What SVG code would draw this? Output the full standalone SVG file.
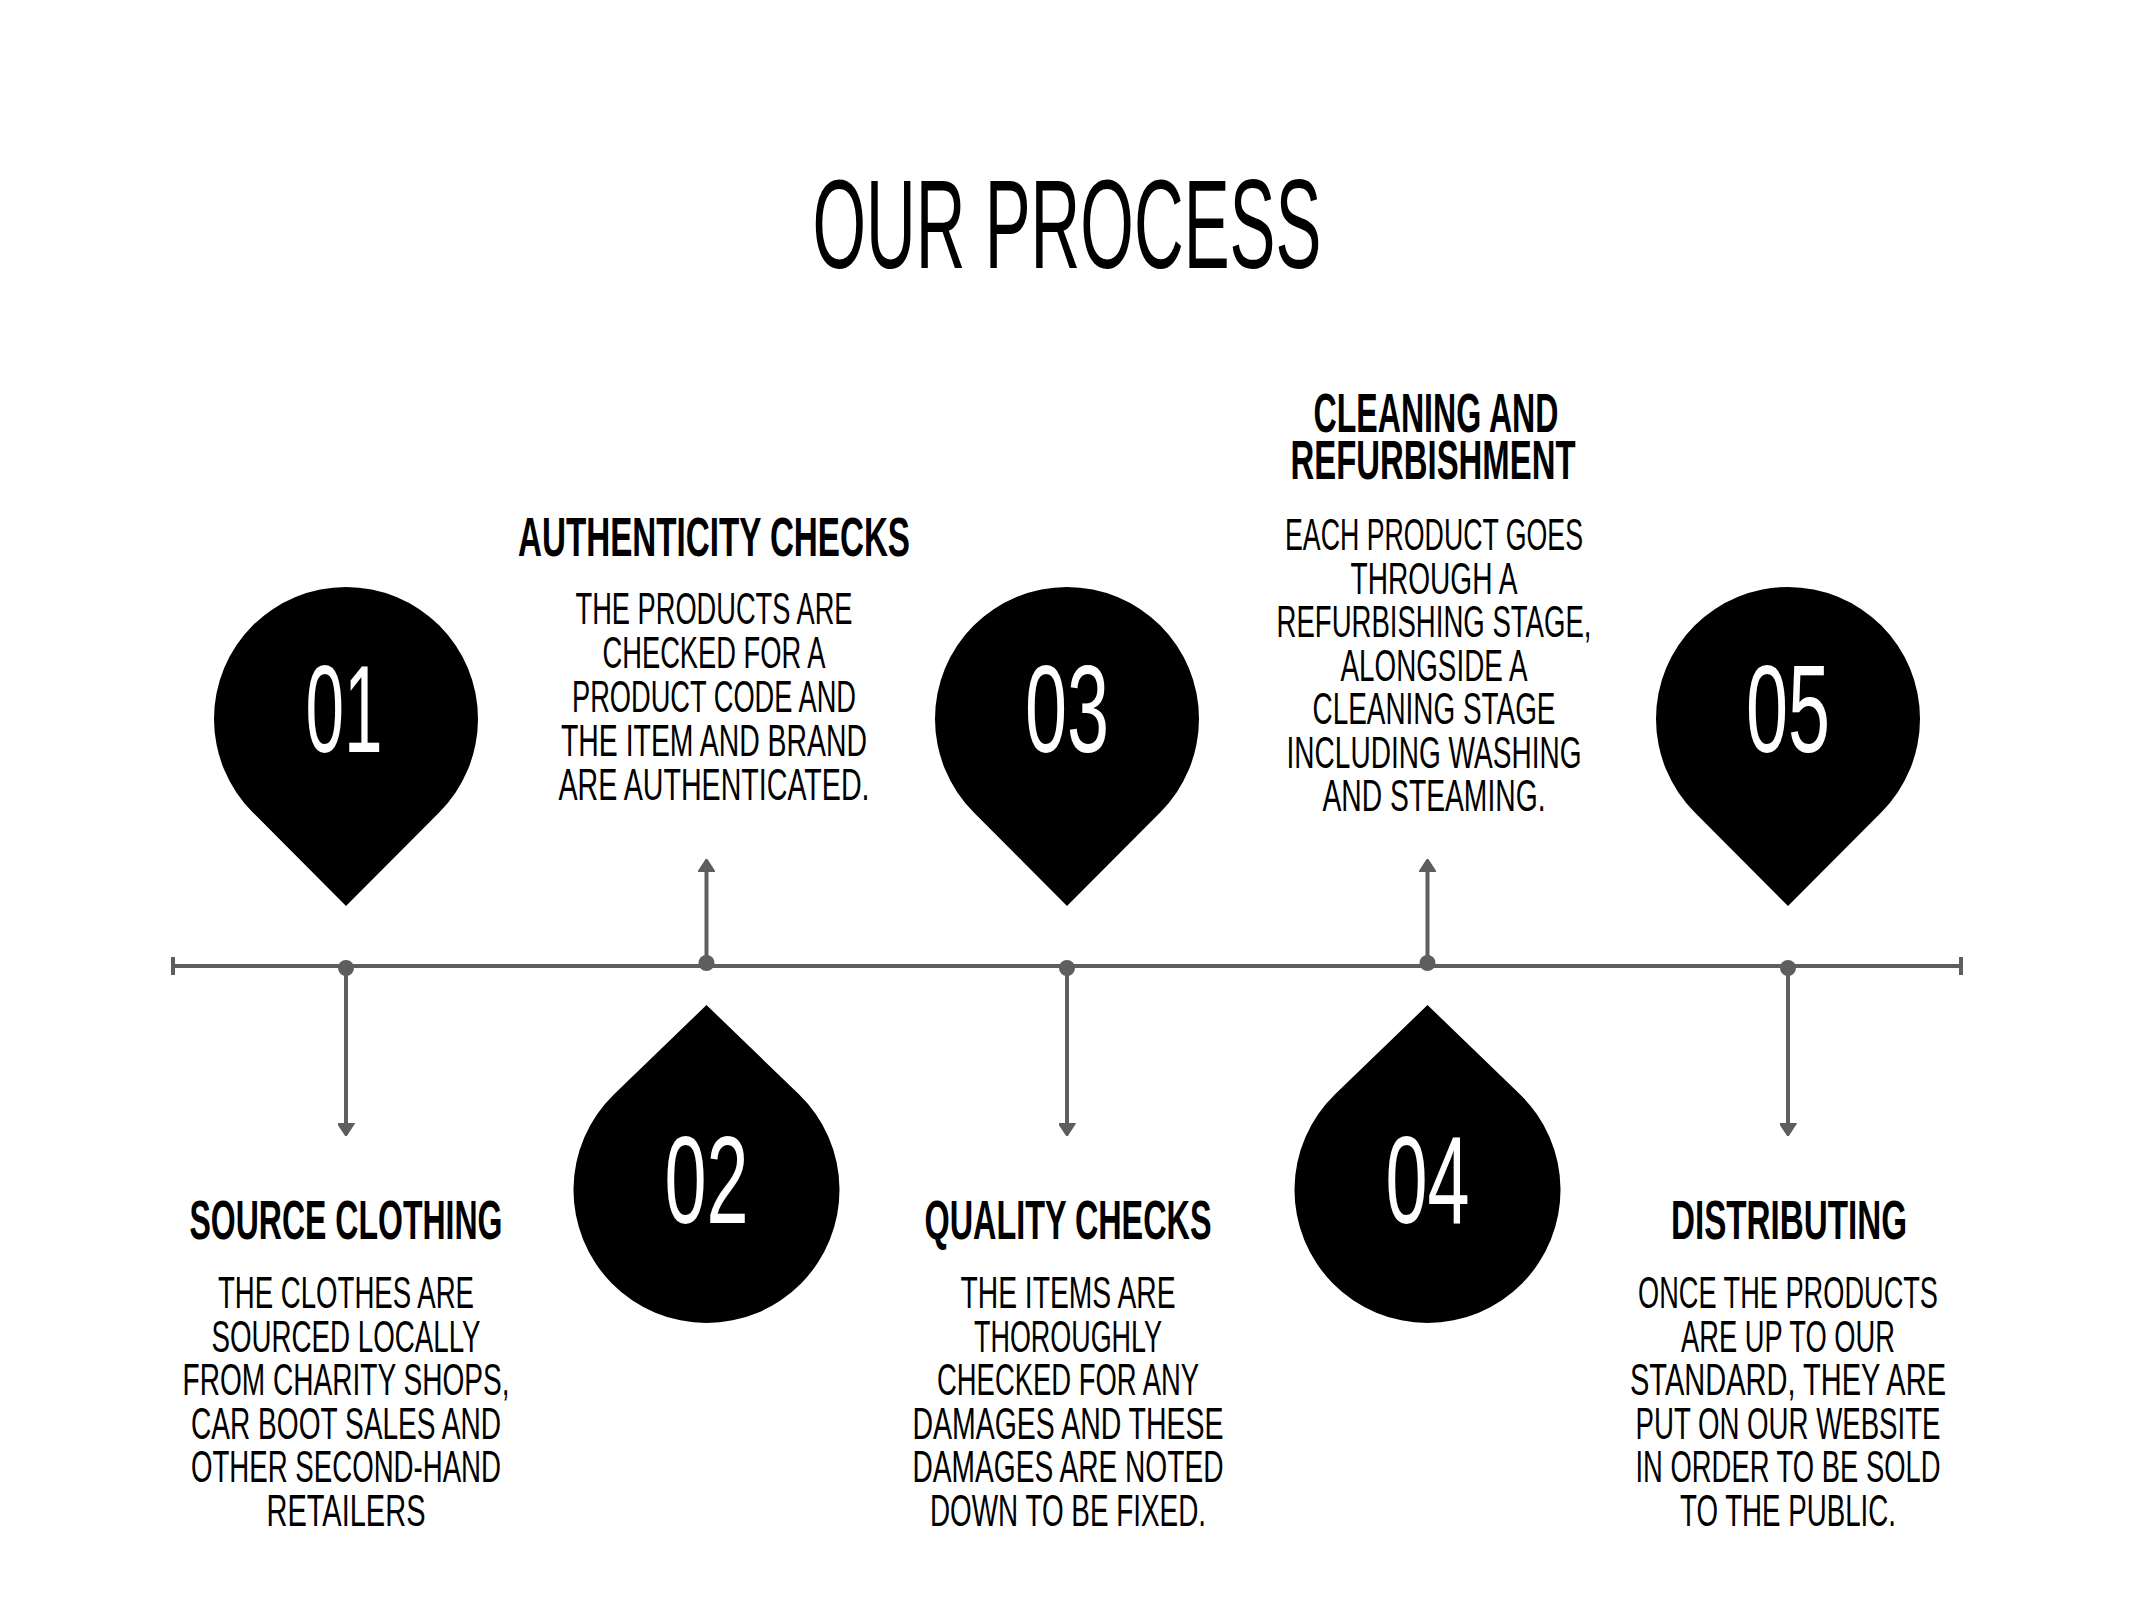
<svg xmlns="http://www.w3.org/2000/svg" width="2134" height="1600" viewBox="0 0 2134 1600">
<style>
.t{font-family:"Liberation Sans Narrow","Liberation Sans",Arial,sans-serif;fill:#000;text-anchor:middle}
.title{font-size:127px}
.h{font-size:56px;font-weight:bold}
.b{font-size:45px}
.num{font-family:"Liberation Sans Narrow","Liberation Sans",Arial,sans-serif;font-size:124px;fill:#fff;text-anchor:middle}
.pin{fill:#000}
.ln{stroke:#5e5e5e;stroke-width:4;fill:none}
.dot{fill:#5e5e5e}
</style>
<defs>
<marker id="ah" viewBox="0 0 13 17" refX="1" refY="8.5" markerWidth="13" markerHeight="17" markerUnits="userSpaceOnUse" orient="auto">
<path d="M0,0 L13,8.5 L0,17 Z" fill="#5e5e5e" stroke="#5e5e5e" stroke-width="1.5" stroke-linejoin="round"/>
</marker>
</defs>
<rect width="2134" height="1600" fill="#fff"/>
<text class="t title" x="1067" y="268" textLength="509" lengthAdjust="spacingAndGlyphs">OUR PROCESS</text>

<g id="connectors">
<line class="ln" x1="173" y1="966" x2="1961" y2="966"/>
<line class="ln" x1="173" y1="957" x2="173" y2="975"/>
<line class="ln" x1="1961" y1="957" x2="1961" y2="975"/>
<line class="ln" x1="346" y1="966" x2="346" y2="1124" marker-end="url(#ah)"/>
<line class="ln" x1="706.5" y1="966" x2="706.5" y2="871" marker-end="url(#ah)"/>
<line class="ln" x1="1067" y1="966" x2="1067" y2="1124" marker-end="url(#ah)"/>
<line class="ln" x1="1427.5" y1="966" x2="1427.5" y2="871" marker-end="url(#ah)"/>
<line class="ln" x1="1788" y1="966" x2="1788" y2="1124" marker-end="url(#ah)"/>
<circle class="dot" cx="346" cy="968" r="8"/>
<circle class="dot" cx="706.5" cy="963" r="8"/>
<circle class="dot" cx="1067" cy="968" r="8"/>
<circle class="dot" cx="1427.5" cy="963" r="8"/>
<circle class="dot" cx="1788" cy="968" r="8"/>
</g>

<g id="step1">
<path class="pin" d="M346,906 L252.6,812.2 A132,132 0 1 1 439.4,812.2 Z"/>
<text class="num" x="344" y="752" textLength="77" lengthAdjust="spacingAndGlyphs">01</text>
<text class="t h" x="346" y="1239" textLength="313" lengthAdjust="spacingAndGlyphs">SOURCE CLOTHING</text>
<text class="t b"><tspan x="346" y="1308" textLength="256" lengthAdjust="spacingAndGlyphs">THE CLOTHES ARE</tspan><tspan x="346" y="1351.5" textLength="269" lengthAdjust="spacingAndGlyphs">SOURCED LOCALLY</tspan><tspan x="346" y="1395" textLength="327" lengthAdjust="spacingAndGlyphs">FROM CHARITY SHOPS,</tspan><tspan x="346" y="1438.5" textLength="310" lengthAdjust="spacingAndGlyphs">CAR BOOT SALES AND</tspan><tspan x="346" y="1482" textLength="310" lengthAdjust="spacingAndGlyphs">OTHER SECOND-HAND</tspan><tspan x="346" y="1525.5" textLength="159" lengthAdjust="spacingAndGlyphs">RETAILERS</tspan></text>
</g>

<g id="step2">
<path class="pin" d="M706.5,1005 L798.9,1094.3 A133,133 0 1 1 614.1,1094.3 Z"/>
<text class="num" x="706.5" y="1223" textLength="84" lengthAdjust="spacingAndGlyphs">02</text>
<text class="t h" x="714" y="556" textLength="392" lengthAdjust="spacingAndGlyphs">AUTHENTICITY CHECKS</text>
<text class="t b"><tspan x="714" y="624" textLength="277" lengthAdjust="spacingAndGlyphs">THE PRODUCTS ARE</tspan><tspan x="714" y="668" textLength="223" lengthAdjust="spacingAndGlyphs">CHECKED FOR A</tspan><tspan x="714" y="712" textLength="284" lengthAdjust="spacingAndGlyphs">PRODUCT CODE AND</tspan><tspan x="714" y="756" textLength="306" lengthAdjust="spacingAndGlyphs">THE ITEM AND BRAND</tspan><tspan x="714" y="800" textLength="311" lengthAdjust="spacingAndGlyphs">ARE AUTHENTICATED.</tspan></text>
</g>

<g id="step3">
<path class="pin" d="M1067,906 L973.6,812.2 A132,132 0 1 1 1160.4,812.2 Z"/>
<text class="num" x="1067" y="752" textLength="84" lengthAdjust="spacingAndGlyphs">03</text>
<text class="t h" x="1068" y="1239" textLength="287" lengthAdjust="spacingAndGlyphs">QUALITY CHECKS</text>
<text class="t b"><tspan x="1068" y="1308" textLength="215" lengthAdjust="spacingAndGlyphs">THE ITEMS ARE</tspan><tspan x="1068" y="1351.5" textLength="188" lengthAdjust="spacingAndGlyphs">THOROUGHLY</tspan><tspan x="1068" y="1395" textLength="262" lengthAdjust="spacingAndGlyphs">CHECKED FOR ANY</tspan><tspan x="1068" y="1438.5" textLength="311" lengthAdjust="spacingAndGlyphs">DAMAGES AND THESE</tspan><tspan x="1068" y="1482" textLength="311" lengthAdjust="spacingAndGlyphs">DAMAGES ARE NOTED</tspan><tspan x="1068" y="1525.5" textLength="276" lengthAdjust="spacingAndGlyphs">DOWN TO BE FIXED.</tspan></text>
</g>

<g id="step4">
<path class="pin" d="M1427.5,1005 L1519.9,1094.3 A133,133 0 1 1 1335.1,1094.3 Z"/>
<text class="num" x="1427.5" y="1223" textLength="84" lengthAdjust="spacingAndGlyphs">04</text>
<text class="t h"><tspan x="1436" y="432" textLength="245" lengthAdjust="spacingAndGlyphs">CLEANING AND</tspan><tspan x="1433" y="479" textLength="285" lengthAdjust="spacingAndGlyphs">REFURBISHMENT</tspan></text>
<text class="t b"><tspan x="1434" y="550" textLength="298" lengthAdjust="spacingAndGlyphs">EACH PRODUCT GOES</tspan><tspan x="1434" y="593.5" textLength="167" lengthAdjust="spacingAndGlyphs">THROUGH A</tspan><tspan x="1434" y="637" textLength="315" lengthAdjust="spacingAndGlyphs">REFURBISHING STAGE,</tspan><tspan x="1434" y="680.5" textLength="187" lengthAdjust="spacingAndGlyphs">ALONGSIDE A</tspan><tspan x="1434" y="724" textLength="243" lengthAdjust="spacingAndGlyphs">CLEANING STAGE</tspan><tspan x="1434" y="767.5" textLength="295" lengthAdjust="spacingAndGlyphs">INCLUDING WASHING</tspan><tspan x="1434" y="811" textLength="223" lengthAdjust="spacingAndGlyphs">AND STEAMING.</tspan></text>
</g>

<g id="step5">
<path class="pin" d="M1788,906 L1694.6,812.2 A132,132 0 1 1 1881.4,812.2 Z"/>
<text class="num" x="1788" y="752" textLength="84" lengthAdjust="spacingAndGlyphs">05</text>
<text class="t h" x="1789" y="1239" textLength="236" lengthAdjust="spacingAndGlyphs">DISTRIBUTING</text>
<text class="t b"><tspan x="1788" y="1308" textLength="300" lengthAdjust="spacingAndGlyphs">ONCE THE PRODUCTS</tspan><tspan x="1788" y="1351.5" textLength="214" lengthAdjust="spacingAndGlyphs">ARE UP TO OUR</tspan><tspan x="1788" y="1395" textLength="316" lengthAdjust="spacingAndGlyphs">STANDARD, THEY ARE</tspan><tspan x="1788" y="1438.5" textLength="305" lengthAdjust="spacingAndGlyphs">PUT ON OUR WEBSITE</tspan><tspan x="1788" y="1482" textLength="305" lengthAdjust="spacingAndGlyphs">IN ORDER TO BE SOLD</tspan><tspan x="1788" y="1525.5" textLength="216" lengthAdjust="spacingAndGlyphs">TO THE PUBLIC.</tspan></text>
</g>
</svg>
